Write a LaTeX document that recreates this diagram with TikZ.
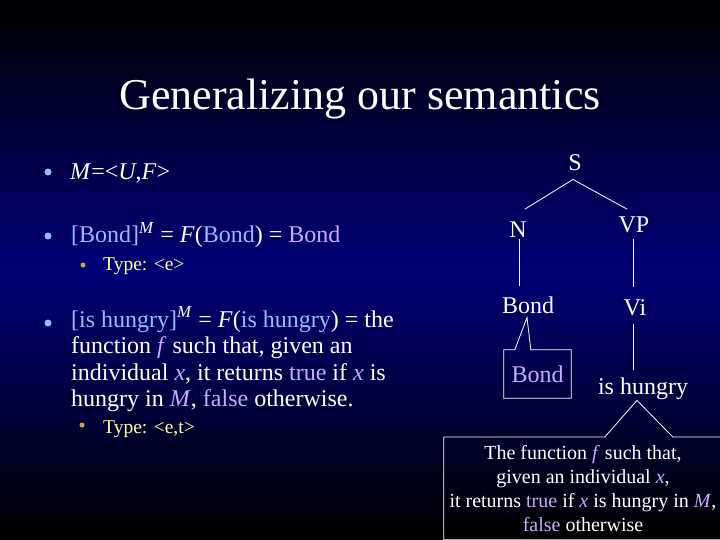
\documentclass[tikz,border=0pt]{standalone}
\usepackage{fontspec}
\setmainfont{Liberation Serif}
\definecolor{slidenavy}{RGB}{0, 0, 120}
\definecolor{paleblue}{RGB}{153, 187, 255}
\definecolor{lilac}{RGB}{204, 170, 255}
\definecolor{typeyellow}{RGB}{255, 255, 153}
\definecolor{bulletgold}{RGB}{204, 160, 90}
\usetikzlibrary{positioning}

\tikzset{
  bodytext/.style={text=white, inner sep=0pt, anchor=base west, align=left,
                   font=\fontsize{24}{26.5}\selectfont},
  typetext/.style={text=typeyellow, inner sep=0pt, anchor=base west,
                   font=\fontsize{19.5}{22}\selectfont},
  dot/.style={circle, fill=paleblue, inner sep=0pt, minimum size=7pt},
  subdot/.style={circle, fill=bulletgold, inner sep=0pt, minimum size=5pt},
  treelabel/.style={text=white, inner sep=0pt, anchor=base,
                    font=\fontsize{24}{28}\selectfont},
  branch/.style={draw=white, line width=0.8pt},
}
\newcommand{\pb}[1]{\textcolor{paleblue}{#1}}
\newcommand{\lc}[1]{\textcolor{lilac}{#1}}

\begin{document}
\begin{tikzpicture}[x=1pt, y=-1pt]
  \useasboundingbox (0,0) rectangle (720,540);
  \clip (0,0) rectangle (720,540);
  \foreach \i in {0,...,107}{
    \pgfmathtruncatemacro\p{100-abs(\i*5+2.5-270)/2.7}
    \fill[slidenavy!\p!black] (0,\i*5) rectangle (720,\i*5+5.5);
  }

  \node[text=white, inner sep=0pt, anchor=base, font=\fontsize{44}{50}\selectfont]
    (title) at (360,110) {Generalizing our semantics};

  % left column
  \node[dot] (b1) at (48,172) {};
  \node[bodytext] (model) at (70,180) {\textit{M}=<\textit{U},\textit{F}>};
  \node[dot] (b2) at (48,236) {};
  \node[bodytext] (bond) at (71,243)
    {\pb{[Bond]}\textsuperscript{\textit{M}} = \textit{F}(\pb{Bond}) = \lc{Bond}};
  \node[subdot] (s1) at (83,265) {};
  \node[typetext] (typee) at (103,270) {Type: <e>};
  \node[dot] (b3) at (48,323) {};
  \node[bodytext] (hungry) at (71,406.5)
    {\pb{[is hungry]}\textsuperscript{\textit{M}} = \textit{F}(\pb{is hungry}) = the\\
     function \lc{\textit{f}} such that, given an\\
     individual \lc{\textit{x}}, it returns \lc{true} if \lc{\textit{x}} is\\
     hungry in \lc{\textit{M}}, \lc{false} otherwise.};
  \node[subdot] (s2) at (82,425) {};
  \node[typetext] (typeet) at (103,433) {Type: <e,t>};

  % tree
  \node[treelabel] (S) at (575,171) {S};
  \node[treelabel] (N) at (518,237) {N};
  \node[treelabel] (VP) at (634,233) {VP};
  \node[treelabel] (bondleaf) at (528,313) {Bond};
  \node[treelabel] (Vi) at (635,315) {Vi};
  \node[treelabel] (isleaf) at (643,394) {is hungry};

  \draw[branch] ([shift={(-2,8)}]S.south) -- ([shift={(7,-12)}]N.north);
  \draw[branch] ([shift={(-2,8)}]S.south) -- ([shift={(-7,-8)}]VP.north);
  \draw[branch] ([shift={(1,2)}]N.south) -- ([shift={(-9,-10)}]bondleaf.north);
  \draw[branch] ([shift={(-1,5)}]VP.south) -- ([shift={(-2,-12)}]Vi.north);
  \draw[branch] ([shift={(-2,8)}]Vi.south) -- ([shift={(-10,-7)}]isleaf.north);

  % callouts
  \node[text=lilac, inner sep=0pt, minimum width=67pt, minimum height=48pt,
        font=\fontsize{24}{28}\selectfont] (bondbox) at (537.5,374) {Bond};
  \draw[branch] (bondbox.north west) -- ([xshift=11pt]bondbox.north west)
    -- ([shift={(-1,4)}]bondleaf.south) -- ([xshift=27pt]bondbox.north west)
    -- (bondbox.north east) -- (bondbox.south east) -- (bondbox.south west) -- cycle;

  \node[text=white, anchor=north, align=center, inner xsep=0pt, inner ysep=8pt,
        minimum width=278pt, font=\fontsize{20}{24}\selectfont] (fbox) at (583,437)
    {The function \lc{\textit{f}} such that,\\
     given an individual \lc{\textit{x}},\\
     it returns \lc{true} if \lc{\textit{x}} is hungry in \lc{\textit{M}},\\
     \lc{false} otherwise};
  \draw[branch] (fbox.north west) -- ([xshift=161pt]fbox.north west)
    -- ([shift={(-6,1)}]isleaf.south) -- ([xshift=229pt]fbox.north west)
    -- (fbox.north east) -- (fbox.south east) -- (fbox.south west) -- cycle;
\end{tikzpicture}
\end{document}
